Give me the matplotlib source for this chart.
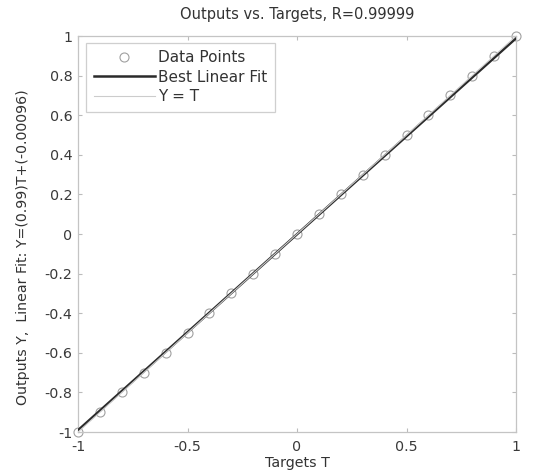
import numpy as np
import matplotlib
matplotlib.use("Agg")
import matplotlib.pyplot as plt

# Network outputs against targets
targets = [-1.0, -0.9, -0.8, -0.7, -0.6, -0.5, -0.4, -0.3, -0.2, -0.1, 0.0,
           0.1, 0.2, 0.3, 0.4, 0.5, 0.6, 0.7, 0.8, 0.9, 1.0]
outputs = [-1.0, -0.90, -0.80, -0.70, -0.60, -0.50, -0.40, -0.30, -0.20, -0.10, 0.0,
           0.10, 0.20, 0.30, 0.40, 0.50, 0.60, 0.70, 0.80, 0.90, 1.0]
fit_slope = 0.99
fit_offset = -0.00096
r_value = "0.99999"

xticks = [-1, -0.5, 0, 0.5, 1]
xticklabels = ["-1", "-0.5", "0", "0.5", "1"]
yticks = [-1, -0.8, -0.6, -0.4, -0.2, 0, 0.2, 0.4, 0.6, 0.8, 1]
yticklabels = ["-1", "-0.8", "-0.6", "-0.4", "-0.2", "0", "0.2", "0.4", "0.6", "0.8", "1"]

plt.rcParams['font.family'] = ['DejaVu Sans']

fig = plt.figure(figsize=(5.37, 4.75), dpi=100)
ax = fig.add_axes([0.1453, 0.0905, 0.8157, 0.8336])

t = np.array(targets)
ax.plot(t, outputs, linestyle='none', marker='o', markersize=6.5,
        markerfacecolor='none', markeredgecolor='#a0a0a0', markeredgewidth=0.8,
        label='Data Points', zorder=2, clip_on=False)
fit_x = np.array([-1.0, 1.0])
ax.plot(fit_x, fit_slope * fit_x + fit_offset, color='#2a2a2a', linewidth=1.8,
        label='Best Linear Fit', zorder=3)
ax.plot(fit_x, fit_x, color='#cccccc', linewidth=0.8, label='Y = T', zorder=4)

ax.set_xlim(-1, 1)
ax.set_ylim(-1, 1)
ax.set_xticks(xticks)
ax.set_xticklabels(xticklabels)
ax.set_yticks(yticks)
ax.set_yticklabels(yticklabels)
ax.tick_params(direction='in', length=3, color='#bbbbbb', labelsize=10.3,
               labelcolor='#3a3a3a', top=True, right=True)
ax.tick_params(axis='x', pad=6)
ax.tick_params(axis='y', pad=4)
for s in ax.spines.values():
    s.set_color('#c4c4c4')
    s.set_linewidth(0.9)

ax.set_title(f"Outputs vs. Targets, R={r_value}", fontsize=10.5, color='#333333', pad=12)
ax.set_xlabel("Targets T", fontsize=10.3, color='#333333', labelpad=1)
ax.set_ylabel("Outputs Y,  Linear Fit: Y=(0.99)T+(-0.00096)", fontsize=10.2,
              color='#333333')
ax.yaxis.set_label_coords(-0.11, 0.468)

leg = ax.legend(loc='upper left', fontsize=11, frameon=True, fancybox=False,
                edgecolor='#c4c4c4', borderpad=0.5, handlelength=4.0,
                handletextpad=0.25, borderaxespad=0.0, labelspacing=0.28,
                bbox_to_anchor=(0.018, 0.983))
leg.get_frame().set_linewidth(0.9)
for txt in leg.get_texts():
    txt.set_color('#333333')

fig.savefig("out.png", dpi=100)
